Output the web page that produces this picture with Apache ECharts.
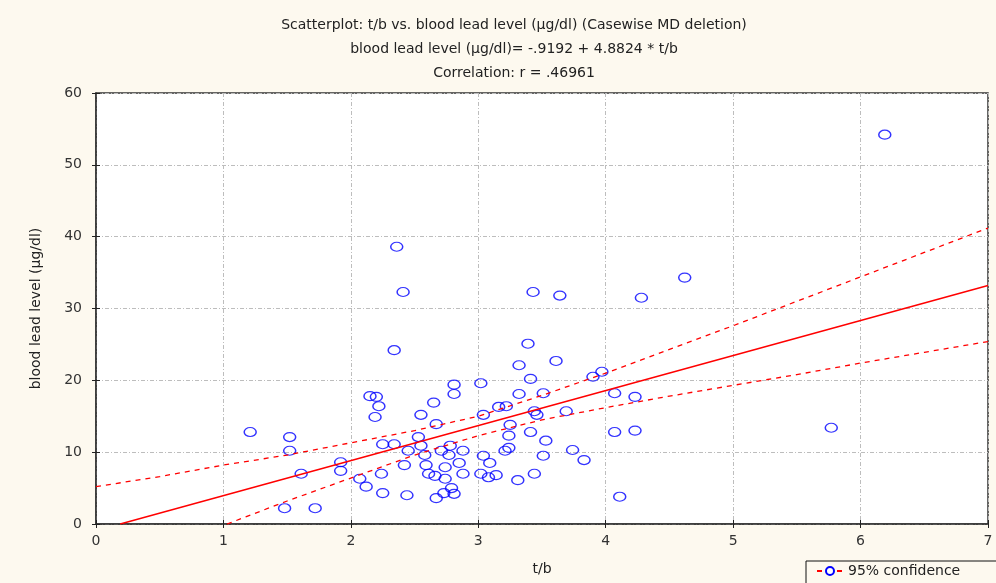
<!DOCTYPE html>
<html>
<head>
<meta charset="utf-8">
<script src="https://cdn.jsdelivr.net/npm/echarts@6/dist/echarts.min.js"></script>
<style>
    html, body { margin: 0; padding: 0; background: #fdf9ef; }
    #chart { width: 996px; height: 583px; }
</style>
</head>
<body>
<div id="chart"></div>
<script>
// t/b values (x) and blood lead level (y)
const tbValues = [
    1.21, 1.52, 1.52, 1.61, 1.48, 1.72, 1.92, 1.92, 2.15, 2.20,
    2.22, 2.19, 2.65, 2.55, 2.67, 2.81, 2.81, 2.53, 2.25, 2.34,
    2.45, 2.55, 2.58, 2.42, 2.24, 2.07, 2.12, 2.25, 2.44, 2.59,
    2.61, 2.66, 2.74, 2.74, 2.71, 2.78, 2.77, 2.88, 2.85, 2.88,
    2.79, 2.73, 2.67, 2.81, 3.32, 3.61, 3.02, 3.41, 3.32, 3.51,
    3.16, 3.22, 3.44, 3.46, 3.69, 3.04, 3.25, 3.24, 3.41, 3.53,
    3.04, 3.09, 3.21, 3.24, 3.51, 3.74, 3.83, 3.02, 3.08, 3.14,
    3.31, 3.44, 3.90, 3.97, 4.07, 4.23, 4.07, 4.23, 4.11, 2.36,
    2.41, 2.34, 3.43, 3.64, 4.62, 4.28, 3.39, 6.19, 5.77
];
const leadValues = [
    12.8, 12.1, 10.2, 7.0, 2.2, 2.2, 8.6, 7.4, 17.8, 17.7,
    16.4, 14.9, 16.9, 15.2, 13.9, 19.4, 18.1, 12.1, 11.1, 11.1,
    10.2, 10.9, 9.6, 8.2, 7.0, 6.3, 5.2, 4.3, 4.0, 8.2,
    7.0, 6.7, 7.9, 6.3, 10.2, 10.9, 9.6, 10.2, 8.5, 7.0,
    5.0, 4.3, 3.6, 4.2, 22.1, 22.7, 19.6, 20.2, 18.1, 18.2,
    16.3, 16.4, 15.7, 15.2, 15.7, 15.2, 13.8, 12.3, 12.8, 11.6,
    9.5, 8.5, 10.2, 10.6, 9.5, 10.3, 8.9, 7.0, 6.5, 6.8,
    6.1, 7.0, 20.5, 21.2, 18.2, 17.7, 12.8, 13.0, 3.8, 38.6,
    32.3, 24.2, 32.3, 31.8, 34.3, 31.5, 25.1, 54.2, 13.4
];

// regression line end points
const fitX = [0.19, 7];
const fitY = [0, 33.2];

// 95% confidence band
const bandX = [0, 0.5, 1, 1.5, 2, 2.5, 3, 3.5, 4, 4.5, 5, 5.5, 6, 6.5, 7];
const upperY = [5.2, 6.6, 8.2, 9.6, 11.3, 13.0, 15.0, 17.9, 21.0, 24.3, 27.6, 31.0, 34.4, 37.8, 41.2];
const lowerY = [-6.9, -3.5, -0.2, 3.2, 6.4, 9.6, 12.3, 14.5, 16.2, 17.8, 19.3, 20.8, 22.4, 23.9, 25.4];

const xTicks = [0, 1, 2, 3, 4, 5, 6, 7];
const yTicks = [0, 10, 20, 30, 40, 50, 60];

const titleLines = [
    'Scatterplot: t/b vs. blood lead level (µg/dl) (Casewise MD deletion)',
    'blood lead level (µg/dl)= -.9192 + 4.8824 * t/b',
    'Correlation: r = .46961'
];

const font = 'DejaVu Sans';
const zip = (xs, ys) => xs.map((x, i) => [x, ys[i]]);

const chart = echarts.init(document.getElementById('chart'));

const gridLine = { show: true, lineStyle: { color: '#bdbdbd', type: [4, 2, 1, 2], width: 1 } };
const tickStyle = { show: true, inside: true, length: 4, lineStyle: { color: '#222', width: 1 } };

chart.setOption({
    backgroundColor: '#fdf9ef',
    animation: false,
    title: {
        text: titleLines.join('\n'),
        left: 509,
        top: 8,
        textAlign: 'center',
        textStyle: { fontFamily: font, fontSize: 14, fontWeight: 'normal', color: '#222', lineHeight: 24 }
    },
    legend: {
        data: ['95% confidence'],
        left: 806,
        top: 561,
        orient: 'horizontal',
        padding: [3, 60, 12, 10],
        borderColor: '#111',
        borderWidth: 1,
        itemWidth: 26,
        itemHeight: 10,
        itemGap: 4,
        textStyle: { fontFamily: font, fontSize: 14, color: '#222' }
    },
    grid: {
        left: 96, right: 8, top: 93, bottom: 59,
        show: true,
        backgroundColor: '#ffffff',
        borderColor: '#333',
        borderWidth: 1.5
    },
    xAxis: [{
        type: 'value',
        min: xTicks[0], max: xTicks[xTicks.length - 1], interval: 1,
        name: 't/b',
        nameLocation: 'middle',
        nameGap: 38,
        nameTextStyle: { fontFamily: font, fontSize: 14, color: '#222' },
        axisLine: { show: true, lineStyle: { color: '#333', width: 1.5 } },
        axisTick: tickStyle,
        axisLabel: { fontFamily: font, fontSize: 14, color: '#333', margin: 10 },
        splitLine: gridLine
    }, {
        type: 'value', position: 'top',
        min: xTicks[0], max: xTicks[xTicks.length - 1], interval: 1,
        axisLine: { show: false },
        axisTick: tickStyle,
        axisLabel: { show: false },
        splitLine: { show: false }
    }],
    yAxis: [{
        type: 'value',
        min: yTicks[0], max: yTicks[yTicks.length - 1], interval: 10,
        name: 'blood lead level (µg/dl)',
        nameLocation: 'middle',
        nameGap: 53,
        nameTextStyle: { fontFamily: font, fontSize: 14, color: '#222' },
        axisLine: { show: true, lineStyle: { color: '#333', width: 1.5 } },
        axisTick: tickStyle,
        axisLabel: { fontFamily: font, fontSize: 14, color: '#333', margin: 14 },
        splitLine: gridLine
    }, {
        type: 'value', position: 'right',
        min: yTicks[0], max: yTicks[yTicks.length - 1], interval: 10,
        axisLine: { show: false },
        axisTick: tickStyle,
        axisLabel: { show: false },
        splitLine: { show: false }
    }],
    series: [
        {
            name: '95% confidence',
            type: 'line',
            data: zip(bandX, upperY),
            symbol: 'emptyCircle',
            symbolSize: [11, 8],
            showSymbol: false,
            itemStyle: { color: '#0000ff' },
            lineStyle: { color: '#ff0000', width: 1.3, type: [5, 5] },
            silent: true
        },
        {
            name: '95% confidence',
            type: 'line',
            data: zip(bandX, lowerY),
            symbol: 'none',
            lineStyle: { color: '#ff0000', width: 1.3, type: [5, 5] },
            silent: true
        },
        {
            name: 'fit',
            type: 'line',
            data: zip(fitX, fitY),
            symbol: 'none',
            lineStyle: { color: '#ff0000', width: 1.5 },
            silent: true
        },
        {
            name: 'blood lead level',
            type: 'scatter',
            data: zip(tbValues, leadValues),
            symbol: 'circle',
            symbolSize: [12, 9],
            itemStyle: { color: 'rgba(0,0,0,0)', borderColor: '#0000ff', borderWidth: 1.3 }
        }
    ]
});
</script>
</body>
</html>
